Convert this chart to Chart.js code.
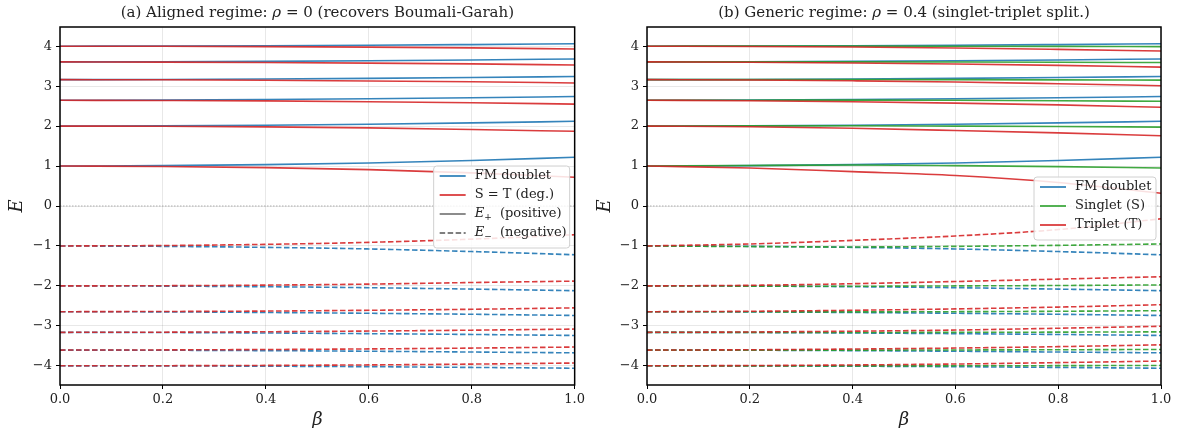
<!DOCTYPE html>
<html>
<head>
<meta charset="utf-8">
<script src="https://cdn.jsdelivr.net/npm/chart.js@4.4.1/dist/chart.umd.min.js"></script>
<style>
  html, body { margin: 0; padding: 0; background: #fff; }
  #wrap { display: flex; width: 1177px; height: 428px; }
  .box { position: relative; height: 428px; }
</style>
</head>
<body>
<div id="wrap">
  <div class="box" style="width:588px"><canvas id="chartA"></canvas></div>
  <div class="box" style="width:589px"><canvas id="chartB"></canvas></div>
</div>
<script>
// ---------------------
// DATA
// ---------------------
const betas = [0, 0.2, 0.4, 0.6, 0.8, 1.0];
const xTicks = [0, 0.2, 0.4, 0.6, 0.8, 1.0];
const yTicks = [-4, -3, -2, -1, 0, 1, 2, 3, 4];

// panel (a) rho = 0
const aFmPos = [
  [1.00, 1.01, 1.035, 1.075, 1.14, 1.22],
  [2.00, 2.005, 2.02, 2.045, 2.08, 2.12],
  [2.646, 2.65, 2.665, 2.685, 2.71, 2.74],
  [3.162, 3.166, 3.178, 3.195, 3.215, 3.24],
  [3.606, 3.61, 3.62, 3.635, 3.655, 3.68],
  [4.00, 4.003, 4.01, 4.022, 4.04, 4.06]
];
const aStPos = [
  [1.00, 0.99, 0.96, 0.91, 0.83, 0.72],
  [2.00, 1.995, 1.98, 1.955, 1.915, 1.87],
  [2.646, 2.64, 2.63, 2.61, 2.585, 2.55],
  [3.162, 3.158, 3.147, 3.13, 3.108, 3.08],
  [3.606, 3.602, 3.592, 3.577, 3.556, 3.53],
  [4.00, 3.997, 3.99, 3.977, 3.957, 3.93]
];
const aFmNeg = [
  [-1.00, -1.01, -1.035, -1.075, -1.14, -1.22],
  [-2.00, -2.005, -2.02, -2.045, -2.08, -2.12],
  [-2.646, -2.65, -2.665, -2.685, -2.71, -2.74],
  [-3.162, -3.166, -3.178, -3.195, -3.215, -3.24],
  [-3.606, -3.61, -3.62, -3.635, -3.655, -3.675],
  [-4.00, -4.003, -4.01, -4.022, -4.04, -4.06]
];
const aStNeg = [
  [-1.00, -0.99, -0.96, -0.91, -0.83, -0.72],
  [-2.00, -1.995, -1.98, -1.955, -1.915, -1.88],
  [-2.646, -2.64, -2.63, -2.61, -2.585, -2.55],
  [-3.162, -3.158, -3.147, -3.13, -3.108, -3.08],
  [-3.606, -3.602, -3.592, -3.577, -3.556, -3.53],
  [-4.00, -3.997, -3.99, -3.977, -3.957, -3.93]
];

// panel (b) rho = 0.4
const bFmPos = aFmPos;
const bFmNeg = aFmNeg;
const bSPos = [
  [1.00, 1.015, 1.025, 1.01, 0.985, 0.95],
  [2.00, 2.005, 2.008, 2.00, 1.99, 1.975],
  [2.646, 2.648, 2.65, 2.645, 2.635, 2.62],
  [3.162, 3.164, 3.165, 3.162, 3.157, 3.15],
  [3.606, 3.607, 3.607, 3.603, 3.598, 3.59],
  [4.00, 4.001, 4.002, 4.00, 3.996, 3.99]
];
const bTPos = [
  [1.00, 0.95, 0.86, 0.765, 0.59, 0.32],
  [2.00, 1.985, 1.945, 1.89, 1.83, 1.76],
  [2.646, 2.635, 2.61, 2.575, 2.53, 2.47],
  [3.162, 3.153, 3.133, 3.105, 3.06, 3.01],
  [3.606, 3.598, 3.58, 3.555, 3.52, 3.475],
  [4.00, 3.993, 3.978, 3.955, 3.92, 3.88]
];
const bSNeg = [
  [-1.00, -1.015, -1.025, -1.01, -0.985, -0.95],
  [-2.00, -2.005, -2.008, -2.00, -1.99, -1.975],
  [-2.646, -2.648, -2.65, -2.645, -2.635, -2.62],
  [-3.162, -3.164, -3.165, -3.162, -3.157, -3.15],
  [-3.606, -3.607, -3.607, -3.603, -3.598, -3.59],
  [-4.00, -4.001, -4.002, -4.00, -3.996, -3.99]
];
const bTNeg = [
  [-1.00, -0.95, -0.86, -0.75, -0.59, -0.32],
  [-2.00, -1.985, -1.945, -1.89, -1.83, -1.77],
  [-2.646, -2.635, -2.61, -2.575, -2.53, -2.47],
  [-3.162, -3.153, -3.133, -3.105, -3.06, -3.01],
  [-3.606, -3.598, -3.58, -3.555, -3.52, -3.475],
  [-4.00, -3.993, -3.978, -3.955, -3.92, -3.88]
];

// ---------------------
// STYLE
// ---------------------
const BLUE = 'rgba(31,119,180,0.9)';
const RED = 'rgba(214,39,40,0.9)';
const GREEN = 'rgba(44,160,44,0.9)';
const GRAY = '#7f7f7f';
const SERIF = "'DejaVu Serif', serif";
const DASH = [5.5, 2.5];

function series(list, color, dashed) {
  return list.map(vals => ({
    data: vals.map((v, i) => ({ x: betas[i], y: v })),
    borderColor: color,
    borderWidth: 1.6,
    borderDash: dashed ? DASH : [],
    pointRadius: 0,
    fill: false,
    tension: 0.4,
    cubicInterpolationMode: 'monotone'
  }));
}

// draws a run of [text, style] pieces; style: '' | 'i' (italic) | 'sub'
function drawRich(ctx, parts, x, y, size, align) {
  const fontOf = st => st === 'i' ? `italic ${size}px ${SERIF}` :
                       st === 'sub' ? `${Math.round(size * 0.7)}px ${SERIF}` : `${size}px ${SERIF}`;
  let total = 0;
  parts.forEach(([t, st]) => { ctx.font = fontOf(st); total += ctx.measureText(t).width; });
  let cx = align === 'center' ? x - total / 2 : x;
  ctx.textAlign = 'left';
  parts.forEach(([t, st]) => {
    ctx.font = fontOf(st);
    ctx.fillText(t, cx, st === 'sub' ? y + size * 0.3 : y);
    cx += ctx.measureText(t).width;
  });
}

// frame, zero line, title, legend
const decor = {
  id: 'decor',
  beforeDatasetsDraw(chart) {
    const { ctx, chartArea: a, scales: { y } } = chart;
    const y0 = y.getPixelForValue(0);
    ctx.save();
    ctx.strokeStyle = '#999';
    ctx.lineWidth = 0.8;
    ctx.setLineDash([1.5, 1.5]);
    ctx.beginPath();
    ctx.moveTo(a.left, y0);
    ctx.lineTo(a.right, y0);
    ctx.stroke();
    ctx.restore();
  },
  afterDraw(chart, args, opts) {
    const { ctx, chartArea: a } = chart;
    ctx.save();
    ctx.strokeStyle = '#000';
    ctx.lineWidth = 1.5;
    ctx.strokeRect(a.left, a.top, a.right - a.left, a.bottom - a.top);

    ctx.fillStyle = '#222';
    ctx.textBaseline = 'middle';
    drawRich(ctx, opts.title, (a.left + a.right) / 2, 13, 15, 'center');

    // legend
    const L = opts.legend;
    const w = L.width, rowH = 19;
    const h = L.items.length * rowH + 6;
    const x0 = a.right - 5 - w;
    const yTop = L.top;
    ctx.fillStyle = 'rgba(255,255,255,0.85)';
    ctx.strokeStyle = '#d0d0d0';
    ctx.lineWidth = 1;
    ctx.beginPath();
    ctx.roundRect(x0, yTop, w, h, 3);
    ctx.fill();
    ctx.stroke();
    L.items.forEach((it, i) => {
      const cy = yTop + 10 + i * rowH;
      ctx.strokeStyle = it.color;
      ctx.lineWidth = 1.8;
      ctx.setLineDash(it.dash ? DASH : []);
      ctx.beginPath();
      ctx.moveTo(x0 + 6, cy);
      ctx.lineTo(x0 + 32, cy);
      ctx.stroke();
      ctx.setLineDash([]);
      ctx.fillStyle = '#222';
      drawRich(ctx, it.label, x0 + 41, cy, 13, 'left');
    });
    ctx.restore();
  }
};

function makeChart(id, datasets, title, legend, rightPad, yWidth) {
  new Chart(document.getElementById(id), {
    type: 'line',
    data: { datasets },
    options: {
      responsive: true,
      maintainAspectRatio: false,
      animation: false,
      layout: { padding: { top: 27, right: rightPad, left: 0, bottom: 0 } },
      plugins: {
        legend: { display: false },
        tooltip: { enabled: false },
        decor: { title, legend }
      },
      scales: {
        x: {
          type: 'linear', min: 0, max: 1,
          afterBuildTicks: s => { s.ticks = xTicks.map(v => ({ value: v })); },
          afterFit: s => { s.height = 43; },
          ticks: { font: { family: SERIF, size: 13 }, color: '#222', padding: 3,
                   callback: v => v.toFixed(1) },
          grid: { color: 'rgba(0,0,0,0.09)', tickColor: '#000', tickLength: 4 },
          border: { display: false },
          title: { display: true, text: 'β', font: { family: SERIF, size: 18, style: 'italic' },
                   color: '#222', padding: { top: 0, bottom: -3 } }
        },
        y: {
          type: 'linear', min: -4.48, max: 4.48,
          afterBuildTicks: s => { s.ticks = yTicks.map(v => ({ value: v })); },
          afterFit: s => { s.width = yWidth; },
          ticks: { font: { family: SERIF, size: 13 }, color: '#222', padding: 4,
                   callback: v => (v < 0 ? '\u2212' + Math.abs(v) : String(v)) },
          grid: { color: 'rgba(0,0,0,0.09)', tickColor: '#000', tickLength: 4 },
          border: { display: false },
          title: { display: true, text: 'E', font: { family: SERIF, size: 18, style: 'italic' },
                   color: '#222', padding: { top: 7, bottom: 0 } }
        }
      }
    },
    plugins: [decor]
  });
}

// first dataset is drawn on top, so red goes first
const dsA = [
  ...series(aStPos, RED, false), ...series(aStNeg, RED, true),
  ...series(aFmPos, BLUE, false), ...series(aFmNeg, BLUE, true)
];
const dsB = [
  ...series(bTPos, RED, false), ...series(bTNeg, RED, true),
  ...series(bSPos, GREEN, false), ...series(bSNeg, GREEN, true),
  ...series(bFmPos, BLUE, false), ...series(bFmNeg, BLUE, true)
];

makeChart('chartA', dsA,
  [['(a) Aligned regime: ', ''], ['ρ', 'i'], [' = 0 (recovers Boumali-Garah)', '']], {
  width: 136, top: 166,
  items: [
    { label: [['FM doublet', '']], color: BLUE },
    { label: [['S = T (deg.)', '']], color: RED },
    { label: [['E', 'i'], ['+', 'sub'], ['  (positive)', '']], color: GRAY },
    { label: [['E', 'i'], ['\u2212', 'sub'], ['  (negative)', '']], color: GRAY, dash: true }
  ]
}, 13, 60);

makeChart('chartB', dsB,
  [['(b) Generic regime: ', ''], ['ρ', 'i'], [' = 0.4 (singlet-triplet split.)', '']], {
  width: 122, top: 177,
  items: [
    { label: [['FM doublet', '']], color: BLUE },
    { label: [['Singlet (S)', '']], color: GREEN },
    { label: [['Triplet (T)', '']], color: RED }
  ]
}, 16, 59);
</script>
</body>
</html>
